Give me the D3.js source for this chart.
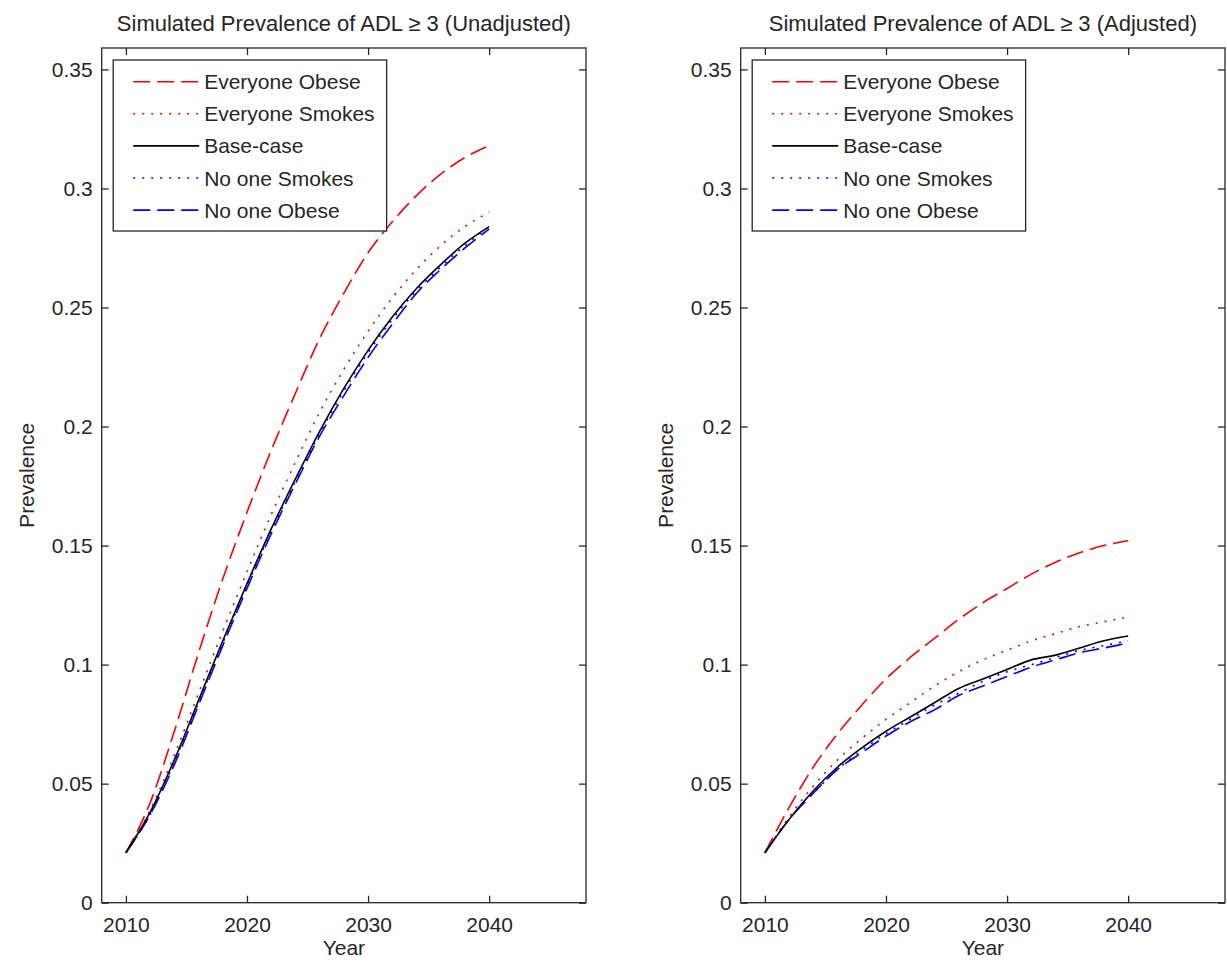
<!DOCTYPE html>
<meta charset="utf-8">
<style>
  body { margin: 0; background: #fff; }
  text { font-family: "Liberation Sans", Arial, sans-serif; fill: #262626; }
  .frame { fill: none; stroke: #262626; stroke-width: 1.3px; }
  .tick line { stroke: #262626; stroke-width: 1.3px; }
  .tick text { font-size: 21px; }
</style>
<script src="https://cdn.jsdelivr.net/npm/d3@7"></script>
<body>
<div id="chart"></div>
<script>

// years on the x axis
var years = [2010, 2012, 2014, 2016, 2018, 2020, 2022, 2024, 2026, 2028, 2030, 2032, 2034, 2036, 2038, 2040];

var seriesNames = ["Everyone Obese", "Everyone Smokes", "Base-case", "No one Smokes", "No one Obese"];

// unadjusted prevalence
var unadjObese   = [0.021, 0.042, 0.072, 0.105, 0.136, 0.164, 0.190, 0.214, 0.237, 0.256, 0.273, 0.286, 0.297, 0.306, 0.313, 0.318];
var unadjSmokes  = [0.021, 0.039, 0.062, 0.088, 0.114, 0.139, 0.163, 0.185, 0.206, 0.224, 0.240, 0.254, 0.266, 0.276, 0.284, 0.290];
var unadjBase    = [0.021, 0.038, 0.060, 0.085, 0.110, 0.134, 0.157, 0.178, 0.198, 0.216, 0.232, 0.246, 0.258, 0.268, 0.277, 0.284];
var unadjNoSmoke = [0.021, 0.037, 0.059, 0.084, 0.109, 0.133, 0.156, 0.177, 0.197, 0.215, 0.231, 0.245, 0.257, 0.267, 0.276, 0.284];
var unadjNoObese = [0.021, 0.037, 0.058, 0.083, 0.108, 0.132, 0.155, 0.176, 0.196, 0.213, 0.229, 0.243, 0.256, 0.266, 0.275, 0.283];

// adjusted prevalence
var adjObese   = [0.021, 0.040, 0.057, 0.071, 0.083, 0.094, 0.103, 0.111, 0.119, 0.126, 0.132, 0.138, 0.143, 0.147, 0.150, 0.152];
var adjSmokes  = [0.021, 0.036, 0.049, 0.060, 0.069, 0.077, 0.084, 0.091, 0.097, 0.102, 0.106, 0.110, 0.113, 0.116, 0.118, 0.120];
var adjBase    = [0.021, 0.035, 0.047, 0.057, 0.065, 0.072, 0.078, 0.084, 0.090, 0.094, 0.098, 0.102, 0.104, 0.107, 0.110, 0.112];
var adjNoSmoke = [0.021, 0.035, 0.046, 0.056, 0.064, 0.071, 0.077, 0.083, 0.088, 0.093, 0.097, 0.100, 0.103, 0.106, 0.108, 0.110];
var adjNoObese = [0.021, 0.035, 0.046, 0.056, 0.063, 0.070, 0.076, 0.081, 0.087, 0.091, 0.095, 0.099, 0.102, 0.105, 0.107, 0.109];

var xTicks = [2010, 2020, 2030, 2040];
var yTicks = [0, 0.05, 0.1, 0.15, 0.2, 0.25, 0.3, 0.35];

var styles = [
  {color: "#ff0000", dash: "17,7"},
  {color: "#ff0000", dash: "2,7"},
  {color: "#000000", dash: null},
  {color: "#0000ff", dash: "2,7"},
  {color: "#0000ff", dash: "17,7"}
];

var width = 1227, height = 963;
var svg = d3.select("#chart").append("svg")
    .attr("width", width)
    .attr("height", height);

var panels = [
  {title: "Simulated Prevalence of ADL \u2265 3 (Unadjusted)", left: 101.7,
   data: [unadjObese, unadjSmokes, unadjBase, unadjNoSmoke, unadjNoObese]},
  {title: "Simulated Prevalence of ADL \u2265 3 (Adjusted)", left: 740.7,
   data: [adjObese, adjSmokes, adjBase, adjNoSmoke, adjNoObese]}
];

var plotW = 484.3, plotTop = 48, plotBottom = 902.7;

panels.forEach(function(p) {
  var x = d3.scaleLinear().domain([2008, 2048]).range([p.left, p.left + plotW]);
  var y = d3.scaleLinear().domain([0, 0.359]).range([plotBottom, plotTop]);
  var g = svg.append("g");

  // series lines
  var line = d3.line()
      .x(function(d, i) { return x(years[i]); })
      .y(function(d) { return y(d); })
      .curve(d3.curveMonotoneX);

  // draw back to front so base-case sits on top of blue
  [0, 1, 4, 3, 2].forEach(function(k) {
    g.append("path")
        .attr("d", line(p.data[k]))
        .attr("fill", "none")
        .attr("stroke", styles[k].color)
        .attr("stroke-width", 1.6)
        .attr("stroke-dasharray", styles[k].dash);
  });

  // axes with inward ticks, like MATLAB
  var fmt = function(d) { return d === 0 ? "0" : String(d); };
  g.append("g")
      .attr("transform", "translate(0," + plotBottom + ")")
      .call(d3.axisBottom(x).tickValues(xTicks).tickSizeInner(-7).tickSizeOuter(0).tickPadding(9).tickFormat(d3.format("d")))
      .call(function(a) { a.select(".domain").remove(); a.selectAll("text").attr("dy", "0.95em"); });
  g.append("g")
      .attr("transform", "translate(0," + plotTop + ")")
      .call(d3.axisTop(x).tickValues(xTicks).tickSizeInner(-7).tickSizeOuter(0).tickFormat(""))
      .call(function(a) { a.select(".domain").remove(); });
  g.append("g")
      .attr("transform", "translate(" + p.left + ",0)")
      .call(d3.axisLeft(y).tickValues(yTicks).tickSizeInner(-7).tickSizeOuter(0).tickPadding(9).tickFormat(fmt))
      .call(function(a) { a.select(".domain").remove(); });
  g.append("g")
      .attr("transform", "translate(" + (p.left + plotW) + ",0)")
      .call(d3.axisRight(y).tickValues(yTicks).tickSizeInner(-7).tickSizeOuter(0).tickFormat(""))
      .call(function(a) { a.select(".domain").remove(); });

  g.append("rect")
      .attr("class", "frame")
      .attr("x", p.left).attr("y", plotTop)
      .attr("width", plotW).attr("height", plotBottom - plotTop);

  var cx = p.left + plotW / 2;
  g.append("text")
      .attr("x", cx).attr("y", 31)
      .attr("text-anchor", "middle")
      .style("font-size", "22px")
      .text(p.title);
  g.append("text")
      .attr("x", cx).attr("y", 955)
      .attr("text-anchor", "middle")
      .style("font-size", "21px")
      .text("Year");
  g.append("text")
      .attr("transform", "translate(" + (p.left - 68) + "," + ((plotTop + plotBottom) / 2) + ") rotate(-90)")
      .attr("text-anchor", "middle")
      .style("font-size", "21px")
      .text("Prevalence");

  // legend
  var lx = p.left + 11.5, ly = 60, rowH = 32.1;
  var leg = g.append("g");
  var box = leg.append("rect")
      .attr("x", lx).attr("y", ly)
      .attr("height", 171)
      .attr("fill", "#fff")
      .attr("stroke", "#262626")
      .attr("stroke-width", 1.3);
  var maxW = 0;
  seriesNames.forEach(function(name, k) {
    var yy = ly + 21.7 + k * rowH;
    leg.append("line")
        .attr("x1", lx + 20).attr("x2", lx + 86)
        .attr("y1", yy).attr("y2", yy)
        .attr("stroke", styles[k].color)
        .attr("stroke-width", 1.6)
        .attr("stroke-dasharray", styles[k].dash);
    var t = leg.append("text")
        .attr("x", lx + 91).attr("y", yy)
        .attr("dy", "0.36em")
        .style("font-size", "21px")
        .text(name);
    maxW = Math.max(maxW, t.node().getComputedTextLength());
  });
  box.attr("width", 91 + maxW + 12);
});

</script>
</body>
